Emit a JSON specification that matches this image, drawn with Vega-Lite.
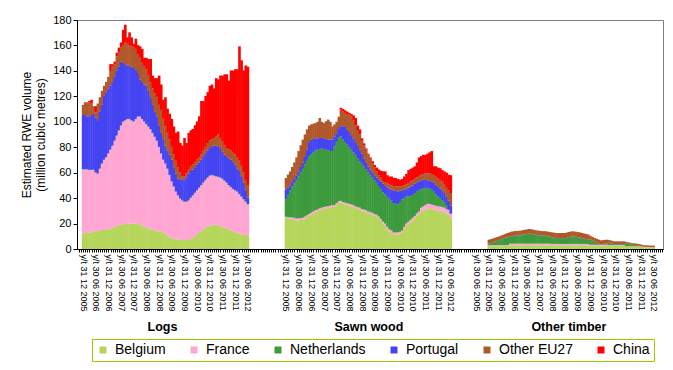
{
"$schema": "https://vega.github.io/schema/vega-lite/v6.json",
"width": 586,
"height": 229,
"autosize": {"type": "none"},
"padding": {"left": 77, "top": 20, "right": 10, "bottom": 121},
"background": "white",
"config": {"font": "Liberation Sans", "view": {"stroke": "#808080", "strokeWidth": 1}},
"layer": [
{
"data": {"values": [
{"i":0,"BE":12,"FR":50.5,"NL":0.3,"PT":42.5,"OT":8,"CN":0},
{"i":1,"BE":12.5,"FR":50,"NL":0.3,"PT":42.5,"OT":9,"CN":1},
{"i":2,"BE":12.5,"FR":50,"NL":0.3,"PT":41.5,"OT":11,"CN":0},
{"i":3,"BE":13,"FR":49,"NL":0.3,"PT":42,"OT":11,"CN":1},
{"i":4,"BE":13,"FR":49,"NL":0.3,"PT":43,"OT":9,"CN":3},
{"i":5,"BE":13.5,"FR":48.5,"NL":0.3,"PT":44,"OT":6,"CN":0},
{"i":6,"BE":14,"FR":46,"NL":0.3,"PT":43,"OT":4,"CN":5},
{"i":7,"BE":14,"FR":45,"NL":0.3,"PT":42,"OT":13,"CN":0},
{"i":8,"BE":14.5,"FR":48.5,"NL":0.3,"PT":45,"OT":11,"CN":0},
{"i":9,"BE":15,"FR":52,"NL":0.3,"PT":46,"OT":11,"CN":0},
{"i":10,"BE":15,"FR":55,"NL":0.3,"PT":50,"OT":8,"CN":0},
{"i":11,"BE":15,"FR":57,"NL":0.3,"PT":51,"OT":8,"CN":0},
{"i":12,"BE":15.5,"FR":59.5,"NL":0.3,"PT":51,"OT":9,"CN":0},
{"i":13,"BE":16,"FR":62,"NL":0.3,"PT":50,"OT":11,"CN":6},
{"i":14,"BE":16.5,"FR":64.5,"NL":0.3,"PT":50,"OT":12,"CN":2},
{"i":15,"BE":17,"FR":68,"NL":0.3,"PT":50,"OT":10,"CN":2},
{"i":16,"BE":18,"FR":71,"NL":0.3,"PT":51,"OT":11,"CN":3},
{"i":17,"BE":18.5,"FR":74.5,"NL":0.3,"PT":50,"OT":11,"CN":4},
{"i":18,"BE":19,"FR":78,"NL":0.3,"PT":50,"OT":11,"CN":4},
{"i":19,"BE":19.5,"FR":80.5,"NL":0.3,"PT":46,"OT":14,"CN":12},
{"i":20,"BE":19.5,"FR":81.5,"NL":0.3,"PT":44,"OT":17,"CN":14},
{"i":21,"BE":20,"FR":82,"NL":0.3,"PT":42,"OT":17,"CN":5},
{"i":22,"BE":20,"FR":82,"NL":0.3,"PT":41.5,"OT":16.5,"CN":10},
{"i":23,"BE":20,"FR":81,"NL":0.3,"PT":42,"OT":16,"CN":7},
{"i":24,"BE":20,"FR":80,"NL":0.3,"PT":42,"OT":16,"CN":3},
{"i":25,"BE":20,"FR":82,"NL":0.3,"PT":39,"OT":16,"CN":8},
{"i":26,"BE":19.5,"FR":84.5,"NL":0.3,"PT":34,"OT":15,"CN":7},
{"i":27,"BE":19,"FR":85,"NL":0.3,"PT":29,"OT":17,"CN":9},
{"i":28,"BE":18.5,"FR":83.5,"NL":0.3,"PT":29,"OT":15,"CN":11},
{"i":29,"BE":17.5,"FR":82.5,"NL":0.3,"PT":29,"OT":14,"CN":7},
{"i":30,"BE":16.5,"FR":81.5,"NL":0.3,"PT":30,"OT":13,"CN":9},
{"i":31,"BE":16,"FR":80,"NL":0.3,"PT":28,"OT":12,"CN":13},
{"i":32,"BE":15.5,"FR":78.5,"NL":0.3,"PT":25,"OT":12,"CN":18},
{"i":33,"BE":15,"FR":76,"NL":0.3,"PT":22,"OT":13,"CN":10},
{"i":34,"BE":14.5,"FR":73.5,"NL":0.3,"PT":20,"OT":14,"CN":12},
{"i":35,"BE":14,"FR":71,"NL":0.3,"PT":19,"OT":15,"CN":15},
{"i":36,"BE":14,"FR":66,"NL":0.3,"PT":17,"OT":16,"CN":23},
{"i":37,"BE":13.5,"FR":61.5,"NL":0.3,"PT":16,"OT":18,"CN":20},
{"i":38,"BE":13,"FR":57,"NL":0.3,"PT":16,"OT":16,"CN":15},
{"i":39,"BE":12,"FR":55,"NL":0.3,"PT":14,"OT":15,"CN":23},
{"i":40,"BE":10.5,"FR":52.5,"NL":0.3,"PT":14,"OT":14,"CN":19},
{"i":41,"BE":9,"FR":49,"NL":0.3,"PT":16,"OT":12,"CN":20},
{"i":42,"BE":8.5,"FR":44.5,"NL":0.3,"PT":17,"OT":10,"CN":22},
{"i":43,"BE":8,"FR":41,"NL":0.3,"PT":15,"OT":10,"CN":22},
{"i":44,"BE":7.5,"FR":37.5,"NL":0.3,"PT":14,"OT":10,"CN":22},
{"i":45,"BE":7.5,"FR":34.5,"NL":0.3,"PT":13,"OT":9,"CN":28},
{"i":46,"BE":7,"FR":32.5,"NL":0.3,"PT":14.5,"OT":6,"CN":23},
{"i":47,"BE":7,"FR":31,"NL":0.3,"PT":16,"OT":3,"CN":24},
{"i":48,"BE":7,"FR":30,"NL":0.3,"PT":17.5,"OT":2.5,"CN":30},
{"i":49,"BE":7,"FR":30,"NL":0.3,"PT":19,"OT":3.5,"CN":23.5},
{"i":50,"BE":7.5,"FR":30.5,"NL":0.3,"PT":21,"OT":3,"CN":29},
{"i":51,"BE":8,"FR":32,"NL":0.3,"PT":21,"OT":4,"CN":28},
{"i":52,"BE":8.5,"FR":33.5,"NL":0.3,"PT":20,"OT":4,"CN":28},
{"i":53,"BE":10,"FR":34,"NL":0.3,"PT":20,"OT":4,"CN":29},
{"i":54,"BE":11,"FR":35,"NL":0.3,"PT":20,"OT":4,"CN":30},
{"i":55,"BE":12.5,"FR":35.5,"NL":0.3,"PT":19.5,"OT":4,"CN":32.5},
{"i":56,"BE":14,"FR":36,"NL":0.3,"PT":20,"OT":4,"CN":42},
{"i":57,"BE":15.5,"FR":36.5,"NL":0.3,"PT":20,"OT":5,"CN":39},
{"i":58,"BE":16.5,"FR":37.5,"NL":0.3,"PT":21,"OT":5,"CN":40},
{"i":59,"BE":17.5,"FR":38.5,"NL":0.3,"PT":21,"OT":6,"CN":40},
{"i":60,"BE":18,"FR":39.5,"NL":0.3,"PT":21.5,"OT":6,"CN":43},
{"i":61,"BE":18.5,"FR":39.5,"NL":0.3,"PT":22.5,"OT":5.5,"CN":43},
{"i":62,"BE":19,"FR":38.5,"NL":0.3,"PT":23.5,"OT":6,"CN":39},
{"i":63,"BE":19,"FR":38,"NL":0.3,"PT":24,"OT":7,"CN":46},
{"i":64,"BE":18.5,"FR":38,"NL":0.3,"PT":24,"OT":9.5,"CN":43},
{"i":65,"BE":18,"FR":38,"NL":0.3,"PT":23,"OT":8,"CN":49},
{"i":66,"BE":17.5,"FR":37.5,"NL":0.3,"PT":21,"OT":8,"CN":52},
{"i":67,"BE":17,"FR":36.5,"NL":0.3,"PT":20.5,"OT":7,"CN":56},
{"i":68,"BE":16,"FR":36,"NL":0.3,"PT":20,"OT":7,"CN":58},
{"i":69,"BE":15.5,"FR":34.5,"NL":0.3,"PT":21,"OT":7,"CN":54},
{"i":70,"BE":14.5,"FR":34,"NL":0.3,"PT":21.5,"OT":7,"CN":63},
{"i":71,"BE":13.5,"FR":33.5,"NL":0.3,"PT":21,"OT":8,"CN":64},
{"i":72,"BE":13,"FR":33,"NL":0.3,"PT":20,"OT":8,"CN":67},
{"i":73,"BE":12.5,"FR":32.5,"NL":0.3,"PT":18,"OT":9,"CN":69},
{"i":74,"BE":12,"FR":31,"NL":0.3,"PT":18,"OT":8,"CN":90},
{"i":75,"BE":11.5,"FR":29.5,"NL":0.3,"PT":16,"OT":8,"CN":83},
{"i":76,"BE":11,"FR":28,"NL":0.3,"PT":13,"OT":8,"CN":80},
{"i":77,"BE":11,"FR":26,"NL":0.3,"PT":9,"OT":8,"CN":90},
{"i":78,"BE":10.5,"FR":24.5,"NL":0.3,"PT":5,"OT":10,"CN":93},
{"i":96,"BE":24.4,"FR":1,"NL":13.4,"PT":7.8,"OT":9.2,"CN":0},
{"i":97,"BE":24,"FR":1,"NL":17.5,"PT":5.8,"OT":10.2,"CN":0},
{"i":98,"BE":23.8,"FR":1,"NL":21.2,"PT":4,"OT":11,"CN":0},
{"i":99,"BE":23.5,"FR":1.5,"NL":24,"PT":3.5,"OT":12,"CN":0},
{"i":100,"BE":23,"FR":1.5,"NL":27,"PT":3.5,"OT":13,"CN":0},
{"i":101,"BE":22.5,"FR":1.5,"NL":30,"PT":3.5,"OT":14.5,"CN":0},
{"i":102,"BE":22.5,"FR":1.5,"NL":33,"PT":4,"OT":16,"CN":0},
{"i":103,"BE":22.8,"FR":1.5,"NL":35.7,"PT":4.5,"OT":17,"CN":0},
{"i":104,"BE":23,"FR":1.5,"NL":38.5,"PT":5,"OT":18,"CN":0},
{"i":105,"BE":24,"FR":1.5,"NL":41,"PT":6.5,"OT":17,"CN":0},
{"i":106,"BE":25,"FR":1.5,"NL":43.5,"PT":8,"OT":16,"CN":0},
{"i":107,"BE":26,"FR":1.5,"NL":45.5,"PT":11,"OT":13,"CN":0},
{"i":108,"BE":27,"FR":1.5,"NL":46,"PT":11.5,"OT":12,"CN":0},
{"i":109,"BE":28,"FR":1.5,"NL":46.5,"PT":10.5,"OT":12,"CN":0},
{"i":110,"BE":29,"FR":1.5,"NL":47,"PT":9.5,"OT":12,"CN":0},
{"i":111,"BE":29.5,"FR":1.5,"NL":47,"PT":9,"OT":13,"CN":0},
{"i":112,"BE":30.5,"FR":1.5,"NL":46.5,"PT":8.8,"OT":15.7,"CN":0},
{"i":113,"BE":31,"FR":1.5,"NL":46.5,"PT":8.3,"OT":12.7,"CN":0},
{"i":114,"BE":31.5,"FR":1.5,"NL":45.5,"PT":8.5,"OT":12,"CN":0},
{"i":115,"BE":32,"FR":1.5,"NL":44.5,"PT":8.5,"OT":14,"CN":0},
{"i":116,"BE":32,"FR":1.5,"NL":44,"PT":8.5,"OT":15.7,"CN":0},
{"i":117,"BE":32.5,"FR":1.5,"NL":43,"PT":9,"OT":14,"CN":0},
{"i":118,"BE":33,"FR":1.5,"NL":42.5,"PT":9,"OT":10.4,"CN":0},
{"i":119,"BE":33,"FR":1.5,"NL":46,"PT":8,"OT":9.5,"CN":0},
{"i":120,"BE":34.5,"FR":1.5,"NL":48,"PT":7,"OT":9,"CN":0},
{"i":121,"BE":36,"FR":1.5,"NL":50.5,"PT":7,"OT":9,"CN":0},
{"i":122,"BE":36.5,"FR":1.5,"NL":50.5,"PT":8,"OT":13,"CN":1.5},
{"i":123,"BE":35.5,"FR":1.5,"NL":49,"PT":10.5,"OT":11.5,"CN":2},
{"i":124,"BE":35,"FR":1.5,"NL":47.5,"PT":12.5,"OT":10.5,"CN":2},
{"i":125,"BE":34.5,"FR":1.5,"NL":46,"PT":12,"OT":12,"CN":2},
{"i":126,"BE":34,"FR":1.5,"NL":44.5,"PT":12,"OT":13.5,"CN":1.5},
{"i":127,"BE":33.5,"FR":1.5,"NL":43,"PT":11.5,"OT":14.8,"CN":1.7},
{"i":128,"BE":33,"FR":1.5,"NL":41.5,"PT":11,"OT":14,"CN":4},
{"i":129,"BE":32,"FR":1.5,"NL":40.5,"PT":10,"OT":13,"CN":6},
{"i":130,"BE":31.5,"FR":1.5,"NL":38.5,"PT":9.5,"OT":12.5,"CN":3.5},
{"i":131,"BE":31,"FR":1.5,"NL":36.5,"PT":9,"OT":12,"CN":4},
{"i":132,"BE":30,"FR":1.5,"NL":35.5,"PT":8,"OT":10,"CN":2},
{"i":133,"BE":29.5,"FR":1.5,"NL":34,"PT":6,"OT":10.5,"CN":1.5},
{"i":134,"BE":29,"FR":1.5,"NL":32,"PT":5.1,"OT":10.4,"CN":1},
{"i":135,"BE":28,"FR":1.5,"NL":30.5,"PT":5,"OT":9.5,"CN":0.5},
{"i":136,"BE":27.5,"FR":1.5,"NL":29,"PT":4,"OT":9,"CN":1},
{"i":137,"BE":27,"FR":1.5,"NL":27.5,"PT":3.7,"OT":7.8,"CN":1.5},
{"i":138,"BE":26,"FR":1.5,"NL":26.5,"PT":4,"OT":6,"CN":2},
{"i":139,"BE":25.5,"FR":1.5,"NL":25,"PT":4,"OT":5,"CN":3},
{"i":140,"BE":24,"FR":1.5,"NL":24,"PT":5,"OT":3.5,"CN":4.5},
{"i":141,"BE":22,"FR":1.5,"NL":23.5,"PT":6,"OT":3,"CN":5.5},
{"i":142,"BE":20,"FR":1.5,"NL":23,"PT":7,"OT":2,"CN":7.5},
{"i":143,"BE":18,"FR":2,"NL":23,"PT":6.5,"OT":3,"CN":8.5},
{"i":144,"BE":15.5,"FR":2,"NL":23.5,"PT":7.5,"OT":3,"CN":6.5},
{"i":145,"BE":13.5,"FR":2,"NL":24,"PT":8,"OT":3.5,"CN":6},
{"i":146,"BE":12.5,"FR":2,"NL":23.5,"PT":8.6,"OT":3.4,"CN":7},
{"i":147,"BE":11.5,"FR":1.5,"NL":23,"PT":10,"OT":3.6,"CN":6.4},
{"i":148,"BE":11.5,"FR":1.5,"NL":22.5,"PT":10,"OT":3.8,"CN":6.5},
{"i":149,"BE":11.5,"FR":1.5,"NL":22,"PT":10.3,"OT":4,"CN":5.7},
{"i":150,"BE":12,"FR":1.5,"NL":23.5,"PT":8.8,"OT":3.5,"CN":5.2},
{"i":151,"BE":13,"FR":1.5,"NL":24.5,"PT":7.2,"OT":3.4,"CN":5.4},
{"i":152,"BE":15.5,"FR":2,"NL":22.5,"PT":6.6,"OT":3.4,"CN":7},
{"i":153,"BE":18,"FR":2,"NL":21.5,"PT":6,"OT":3.5,"CN":8},
{"i":154,"BE":19.5,"FR":2,"NL":20,"PT":6.8,"OT":3.6,"CN":10.1},
{"i":155,"BE":21,"FR":2,"NL":18.5,"PT":7.5,"OT":4,"CN":10},
{"i":156,"BE":22.5,"FR":2,"NL":18,"PT":7.5,"OT":4,"CN":10},
{"i":157,"BE":24,"FR":2,"NL":17.5,"PT":7.8,"OT":3.9,"CN":9.8},
{"i":158,"BE":26,"FR":2,"NL":17,"PT":7.5,"OT":4,"CN":11.5},
{"i":159,"BE":27.5,"FR":2,"NL":17,"PT":6.7,"OT":4.3,"CN":14.5},
{"i":160,"BE":29,"FR":3.5,"NL":14.5,"PT":7,"OT":4.4,"CN":14.6},
{"i":161,"BE":30,"FR":3.5,"NL":14,"PT":7,"OT":4.5,"CN":15},
{"i":162,"BE":31,"FR":3.5,"NL":13.3,"PT":6.5,"OT":5.2,"CN":14.5},
{"i":163,"BE":32,"FR":3.5,"NL":12.5,"PT":6,"OT":5.5,"CN":15.5},
{"i":164,"BE":32,"FR":3.5,"NL":12,"PT":6.1,"OT":5.9,"CN":16.5},
{"i":165,"BE":31.5,"FR":3.5,"NL":11.6,"PT":6.6,"OT":5.8,"CN":18},
{"i":166,"BE":31,"FR":3.5,"NL":10.5,"PT":7,"OT":6,"CN":7},
{"i":167,"BE":30.5,"FR":3.5,"NL":9,"PT":7.5,"OT":6.3,"CN":8.2},
{"i":168,"BE":30,"FR":3.5,"NL":8,"PT":7.8,"OT":6.2,"CN":8.5},
{"i":169,"BE":30,"FR":3.5,"NL":6.5,"PT":7.5,"OT":6.8,"CN":9.2},
{"i":170,"BE":29.5,"FR":3.5,"NL":5.5,"PT":7.5,"OT":7,"CN":9},
{"i":171,"BE":29,"FR":3.5,"NL":4.5,"PT":7,"OT":6.5,"CN":10.5},
{"i":172,"BE":28,"FR":3.5,"NL":2.5,"PT":7,"OT":7,"CN":12},
{"i":173,"BE":27,"FR":3.5,"NL":0.5,"PT":7,"OT":8,"CN":12.5},
{"i":174,"BE":24,"FR":3.5,"NL":0.5,"PT":6,"OT":10,"CN":14},
{"i":192,"BE":2.5,"FR":0.5,"NL":1.3,"PT":0,"OT":3,"CN":0},
{"i":193,"BE":2.5,"FR":0.5,"NL":1.8,"PT":0,"OT":3,"CN":0},
{"i":194,"BE":2.5,"FR":0.5,"NL":2.3,"PT":0,"OT":3,"CN":0},
{"i":195,"BE":2.5,"FR":0.5,"NL":2.9,"PT":0,"OT":3,"CN":0},
{"i":196,"BE":2.5,"FR":0.5,"NL":3.4,"PT":0,"OT":3,"CN":0},
{"i":197,"BE":2.5,"FR":0.5,"NL":4,"PT":0,"OT":3,"CN":0},
{"i":198,"BE":2.5,"FR":0.5,"NL":4.7,"PT":0,"OT":3,"CN":0},
{"i":199,"BE":2.5,"FR":0.5,"NL":5.3,"PT":0,"OT":3,"CN":0},
{"i":200,"BE":2.5,"FR":0.5,"NL":6,"PT":0,"OT":3,"CN":0},
{"i":201,"BE":2.5,"FR":0.5,"NL":6.6,"PT":0,"OT":3,"CN":0},
{"i":202,"BE":3,"FR":1.2,"NL":5.3,"PT":0.2,"OT":3.5,"CN":0},
{"i":203,"BE":3,"FR":1.2,"NL":5.8,"PT":0.2,"OT":3.5,"CN":0},
{"i":204,"BE":3,"FR":1.2,"NL":6.1,"PT":0.2,"OT":3.5,"CN":0},
{"i":205,"BE":3,"FR":1.2,"NL":6.3,"PT":0.2,"OT":3.5,"CN":0},
{"i":206,"BE":3,"FR":1.2,"NL":6.4,"PT":0.2,"OT":3.5,"CN":0},
{"i":207,"BE":3,"FR":1.2,"NL":6.5,"PT":0.2,"OT":3.5,"CN":0},
{"i":208,"BE":3,"FR":1.2,"NL":6.9,"PT":0.2,"OT":3.5,"CN":0},
{"i":209,"BE":3,"FR":1.2,"NL":7.2,"PT":0.2,"OT":3.5,"CN":0},
{"i":210,"BE":3,"FR":1.2,"NL":7.5,"PT":0.2,"OT":3.5,"CN":0},
{"i":211,"BE":3,"FR":1.2,"NL":7.8,"PT":0.2,"OT":3.5,"CN":0},
{"i":212,"BE":3,"FR":1.2,"NL":7.6,"PT":0.2,"OT":3.5,"CN":0},
{"i":213,"BE":3,"FR":1.2,"NL":7.3,"PT":0.2,"OT":3.5,"CN":0},
{"i":214,"BE":3,"FR":1.2,"NL":6.9,"PT":0.2,"OT":3.5,"CN":0},
{"i":215,"BE":3,"FR":1.2,"NL":6.6,"PT":0.2,"OT":3.5,"CN":0},
{"i":216,"BE":3,"FR":1.2,"NL":6.4,"PT":0.2,"OT":3.5,"CN":0},
{"i":217,"BE":3,"FR":1.2,"NL":6.2,"PT":0.2,"OT":3.5,"CN":0},
{"i":218,"BE":3,"FR":1.2,"NL":6.1,"PT":0.2,"OT":3.5,"CN":0},
{"i":219,"BE":3,"FR":1.2,"NL":6,"PT":0.2,"OT":3.5,"CN":0},
{"i":220,"BE":3,"FR":1.2,"NL":5.7,"PT":0.2,"OT":3.5,"CN":0},
{"i":221,"BE":3,"FR":1.2,"NL":5.4,"PT":0.2,"OT":3.5,"CN":0},
{"i":222,"BE":3,"FR":1,"NL":4.9,"PT":0.1,"OT":4,"CN":0},
{"i":223,"BE":3,"FR":1,"NL":4.7,"PT":0.1,"OT":4,"CN":0},
{"i":224,"BE":3,"FR":1,"NL":4.5,"PT":0.1,"OT":4,"CN":0},
{"i":225,"BE":3,"FR":1,"NL":4.5,"PT":0.1,"OT":4,"CN":0},
{"i":226,"BE":3,"FR":1,"NL":4.5,"PT":0.1,"OT":4,"CN":0},
{"i":227,"BE":3,"FR":1,"NL":4.5,"PT":0.1,"OT":4,"CN":0},
{"i":228,"BE":3,"FR":1,"NL":4.5,"PT":0.1,"OT":4,"CN":0},
{"i":229,"BE":3,"FR":1,"NL":4.9,"PT":0.1,"OT":4,"CN":0},
{"i":230,"BE":3,"FR":1,"NL":5.3,"PT":0.1,"OT":4,"CN":0},
{"i":231,"BE":3,"FR":1,"NL":5.7,"PT":0.1,"OT":4,"CN":0},
{"i":232,"BE":3,"FR":1,"NL":5.8,"PT":0.1,"OT":4,"CN":0},
{"i":233,"BE":3,"FR":1,"NL":5.5,"PT":0.1,"OT":4,"CN":0},
{"i":234,"BE":3,"FR":1,"NL":5.2,"PT":0.1,"OT":4,"CN":0},
{"i":235,"BE":3,"FR":1,"NL":5,"PT":0.1,"OT":4,"CN":0},
{"i":236,"BE":3,"FR":1,"NL":4.5,"PT":0.1,"OT":4,"CN":0},
{"i":237,"BE":3,"FR":1,"NL":4.1,"PT":0.1,"OT":4,"CN":0},
{"i":238,"BE":3,"FR":1,"NL":3.7,"PT":0.1,"OT":4,"CN":0},
{"i":239,"BE":3,"FR":1,"NL":3.2,"PT":0.1,"OT":4,"CN":0},
{"i":240,"BE":2.5,"FR":0.8,"NL":4.1,"PT":0,"OT":3,"CN":0},
{"i":241,"BE":2.5,"FR":0.8,"NL":3.3,"PT":0,"OT":3,"CN":0},
{"i":242,"BE":2.5,"FR":0.8,"NL":2.4,"PT":0,"OT":3,"CN":0},
{"i":243,"BE":2.5,"FR":0.8,"NL":1.7,"PT":0,"OT":3,"CN":0},
{"i":244,"BE":2.5,"FR":0.8,"NL":1.1,"PT":0,"OT":3,"CN":0},
{"i":245,"BE":2.5,"FR":0.8,"NL":0.5,"PT":0,"OT":3,"CN":0},
{"i":246,"BE":2.5,"FR":0.8,"NL":0.7,"PT":0,"OT":3,"CN":0},
{"i":247,"BE":2.5,"FR":0.8,"NL":0.9,"PT":0,"OT":3,"CN":0},
{"i":248,"BE":2.5,"FR":0.8,"NL":1,"PT":0,"OT":3,"CN":0},
{"i":249,"BE":2.5,"FR":0.5,"NL":1.8,"PT":0,"OT":2.2,"CN":0},
{"i":250,"BE":2.5,"FR":0.5,"NL":1.4,"PT":0,"OT":2.2,"CN":0},
{"i":251,"BE":2.5,"FR":0.5,"NL":0.9,"PT":0,"OT":2.2,"CN":0},
{"i":252,"BE":2.5,"FR":0.5,"NL":0.8,"PT":0,"OT":2.2,"CN":0},
{"i":253,"BE":2.5,"FR":0.5,"NL":0.8,"PT":0,"OT":2.2,"CN":0},
{"i":254,"BE":2.5,"FR":0.5,"NL":0.8,"PT":0,"OT":2.2,"CN":0},
{"i":255,"BE":2.5,"FR":0.5,"NL":0.8,"PT":0,"OT":2.2,"CN":0},
{"i":256,"BE":2.5,"FR":0.5,"NL":0.8,"PT":0,"OT":2.2,"CN":0},
{"i":257,"BE":1.8,"FR":0.3,"NL":2.3,"PT":0,"OT":1.2,"CN":0},
{"i":258,"BE":1.8,"FR":0.3,"NL":1.9,"PT":0,"OT":1.2,"CN":0},
{"i":259,"BE":1.8,"FR":0.3,"NL":1.5,"PT":0,"OT":1.2,"CN":0},
{"i":260,"BE":1.8,"FR":0.3,"NL":1.3,"PT":0,"OT":1.2,"CN":0},
{"i":261,"BE":1.8,"FR":0.3,"NL":1.1,"PT":0,"OT":1.2,"CN":0},
{"i":262,"BE":1.8,"FR":0.3,"NL":0.9,"PT":0,"OT":1.2,"CN":0},
{"i":263,"BE":1.8,"FR":0.3,"NL":0.6,"PT":0,"OT":1.2,"CN":0},
{"i":264,"BE":1.8,"FR":0.3,"NL":0.2,"PT":0,"OT":1.2,"CN":0},
{"i":265,"BE":1.5,"FR":0.3,"NL":0,"PT":0,"OT":1.2,"CN":0},
{"i":266,"BE":1.4,"FR":0.3,"NL":0,"PT":0,"OT":1.2,"CN":0},
{"i":267,"BE":1.3,"FR":0.3,"NL":0,"PT":0,"OT":1.2,"CN":0},
{"i":268,"BE":1.2,"FR":0.3,"NL":0,"PT":0,"OT":1.2,"CN":0},
{"i":269,"BE":1.1,"FR":0.3,"NL":0,"PT":0,"OT":1.2,"CN":0},
{"i":270,"BE":1.1,"FR":0.3,"NL":0,"PT":0,"OT":1.2,"CN":0}
]},
"transform": [
{"fold": ["BE","FR","NL","PT","OT","CN"], "as": ["k","value"]},
{"lookup": "k", "from": {"data": {"values": [
{"k":"BE","country":"Belgium","ord":1},
{"k":"FR","country":"France","ord":2},
{"k":"NL","country":"Netherlands","ord":3},
{"k":"PT","country":"Portugal","ord":4},
{"k":"OT","country":"Other EU27","ord":5},
{"k":"CN","country":"China","ord":6}
]}, "key": "k", "fields": ["country","ord"]}}
],
"mark": {"type": "bar", "orient": "vertical", "size": 2.6, "strokeWidth": 0},
"encoding": {
"x": {"field": "i", "type": "quantitative",
 "scale": {"domain": [-0.5, 272], "nice": false, "zero": false},
 "axis": {"title": null, "grid": false, "tickCount": 273, "labelAngle": 90, "labelFontSize": 9, "labelOverlap": false, "labelFlush": false, "labelBound": false, "tickSize": 3, "domainColor": "black", "tickColor": "black", "labelColor": "black", "labelPadding": 2,
 "labelExpr": "(datum.value % 6 != 0 || datum.value < 0 || datum.value > 270 || (datum.value > 78 && datum.value < 96) || (datum.value > 174 && datum.value < 186)) ? '' : 'y/t ' + ((((datum.value - (datum.value <= 78 ? 0 : datum.value <= 174 ? 96 : 192)) / 6) % 2 == 0) ? '31 12 ' + (2005 + (datum.value - (datum.value <= 78 ? 0 : datum.value <= 174 ? 96 : 192)) / 12) : '30 06 ' + (2006 + floor((datum.value - (datum.value <= 78 ? 0 : datum.value <= 174 ? 96 : 192)) / 12)))"}},
"y": {"field": "value", "type": "quantitative", "stack": "zero",
 "scale": {"domain": [0, 180], "nice": false},
 "axis": {"values": [0,20,40,60,80,100,120,140,160,180], "title": ["Estimated RWE volume", "(million cubic metres)"], "grid": false, "tickSize": 4, "labelFontSize": 11, "titleFontSize": 12, "titleFontWeight": "normal", "domainColor": "black", "tickColor": "black", "labelColor": "black", "titleColor": "black", "labelPadding": 2, "titlePadding": 5, "labelFlush": false}},
"color": {"field": "country", "type": "nominal",
 "scale": {"domain": ["Belgium","France","Netherlands","Portugal","Other EU27","China"], "range": ["#b5d65a","#ffa6d2","#3d9a3d","#4444f2","#b0582a","#ff0000"]},
 "legend": {"orient": "none", "legendX": 15, "legendY": 319, "direction": "horizontal", "title": null, "symbolType": "square", "symbolSize": 49, "symbolStrokeWidth": 0, "labelFontSize": 14, "labelColor": "black", "labelOffset": 5, "columnPadding": 21, "strokeColor": "#99cc00", "fillColor": "white", "padding": 4}},
"order": {"field": "ord", "type": "quantitative"}
}
},
{
"data": {"values": [{"c": 39}, {"c": 135}, {"c": 228}]},
"mark": {"type": "text", "text": ""},
"encoding": {
"x": {"field": "c", "type": "quantitative",
 "scale": {"domain": [-0.5, 272], "nice": false, "zero": false},
 "axis": {"orient": "bottom", "title": null, "values": [39, 135, 228], "domain": false, "ticks": false, "tickSize": 0, "grid": false, "labelAngle": 0, "labelPadding": 71, "labelFontSize": 12.5, "labelFontWeight": "bold", "labelColor": "black", "labelFlush": false, "labelOverlap": false,
 "labelExpr": "datum.value == 39 ? 'Logs' : datum.value == 135 ? 'Sawn wood' : 'Other timber'"}}
}
}
],
"resolve": {"scale": {"x": "independent"}, "axis": {"x": "independent"}}
}
